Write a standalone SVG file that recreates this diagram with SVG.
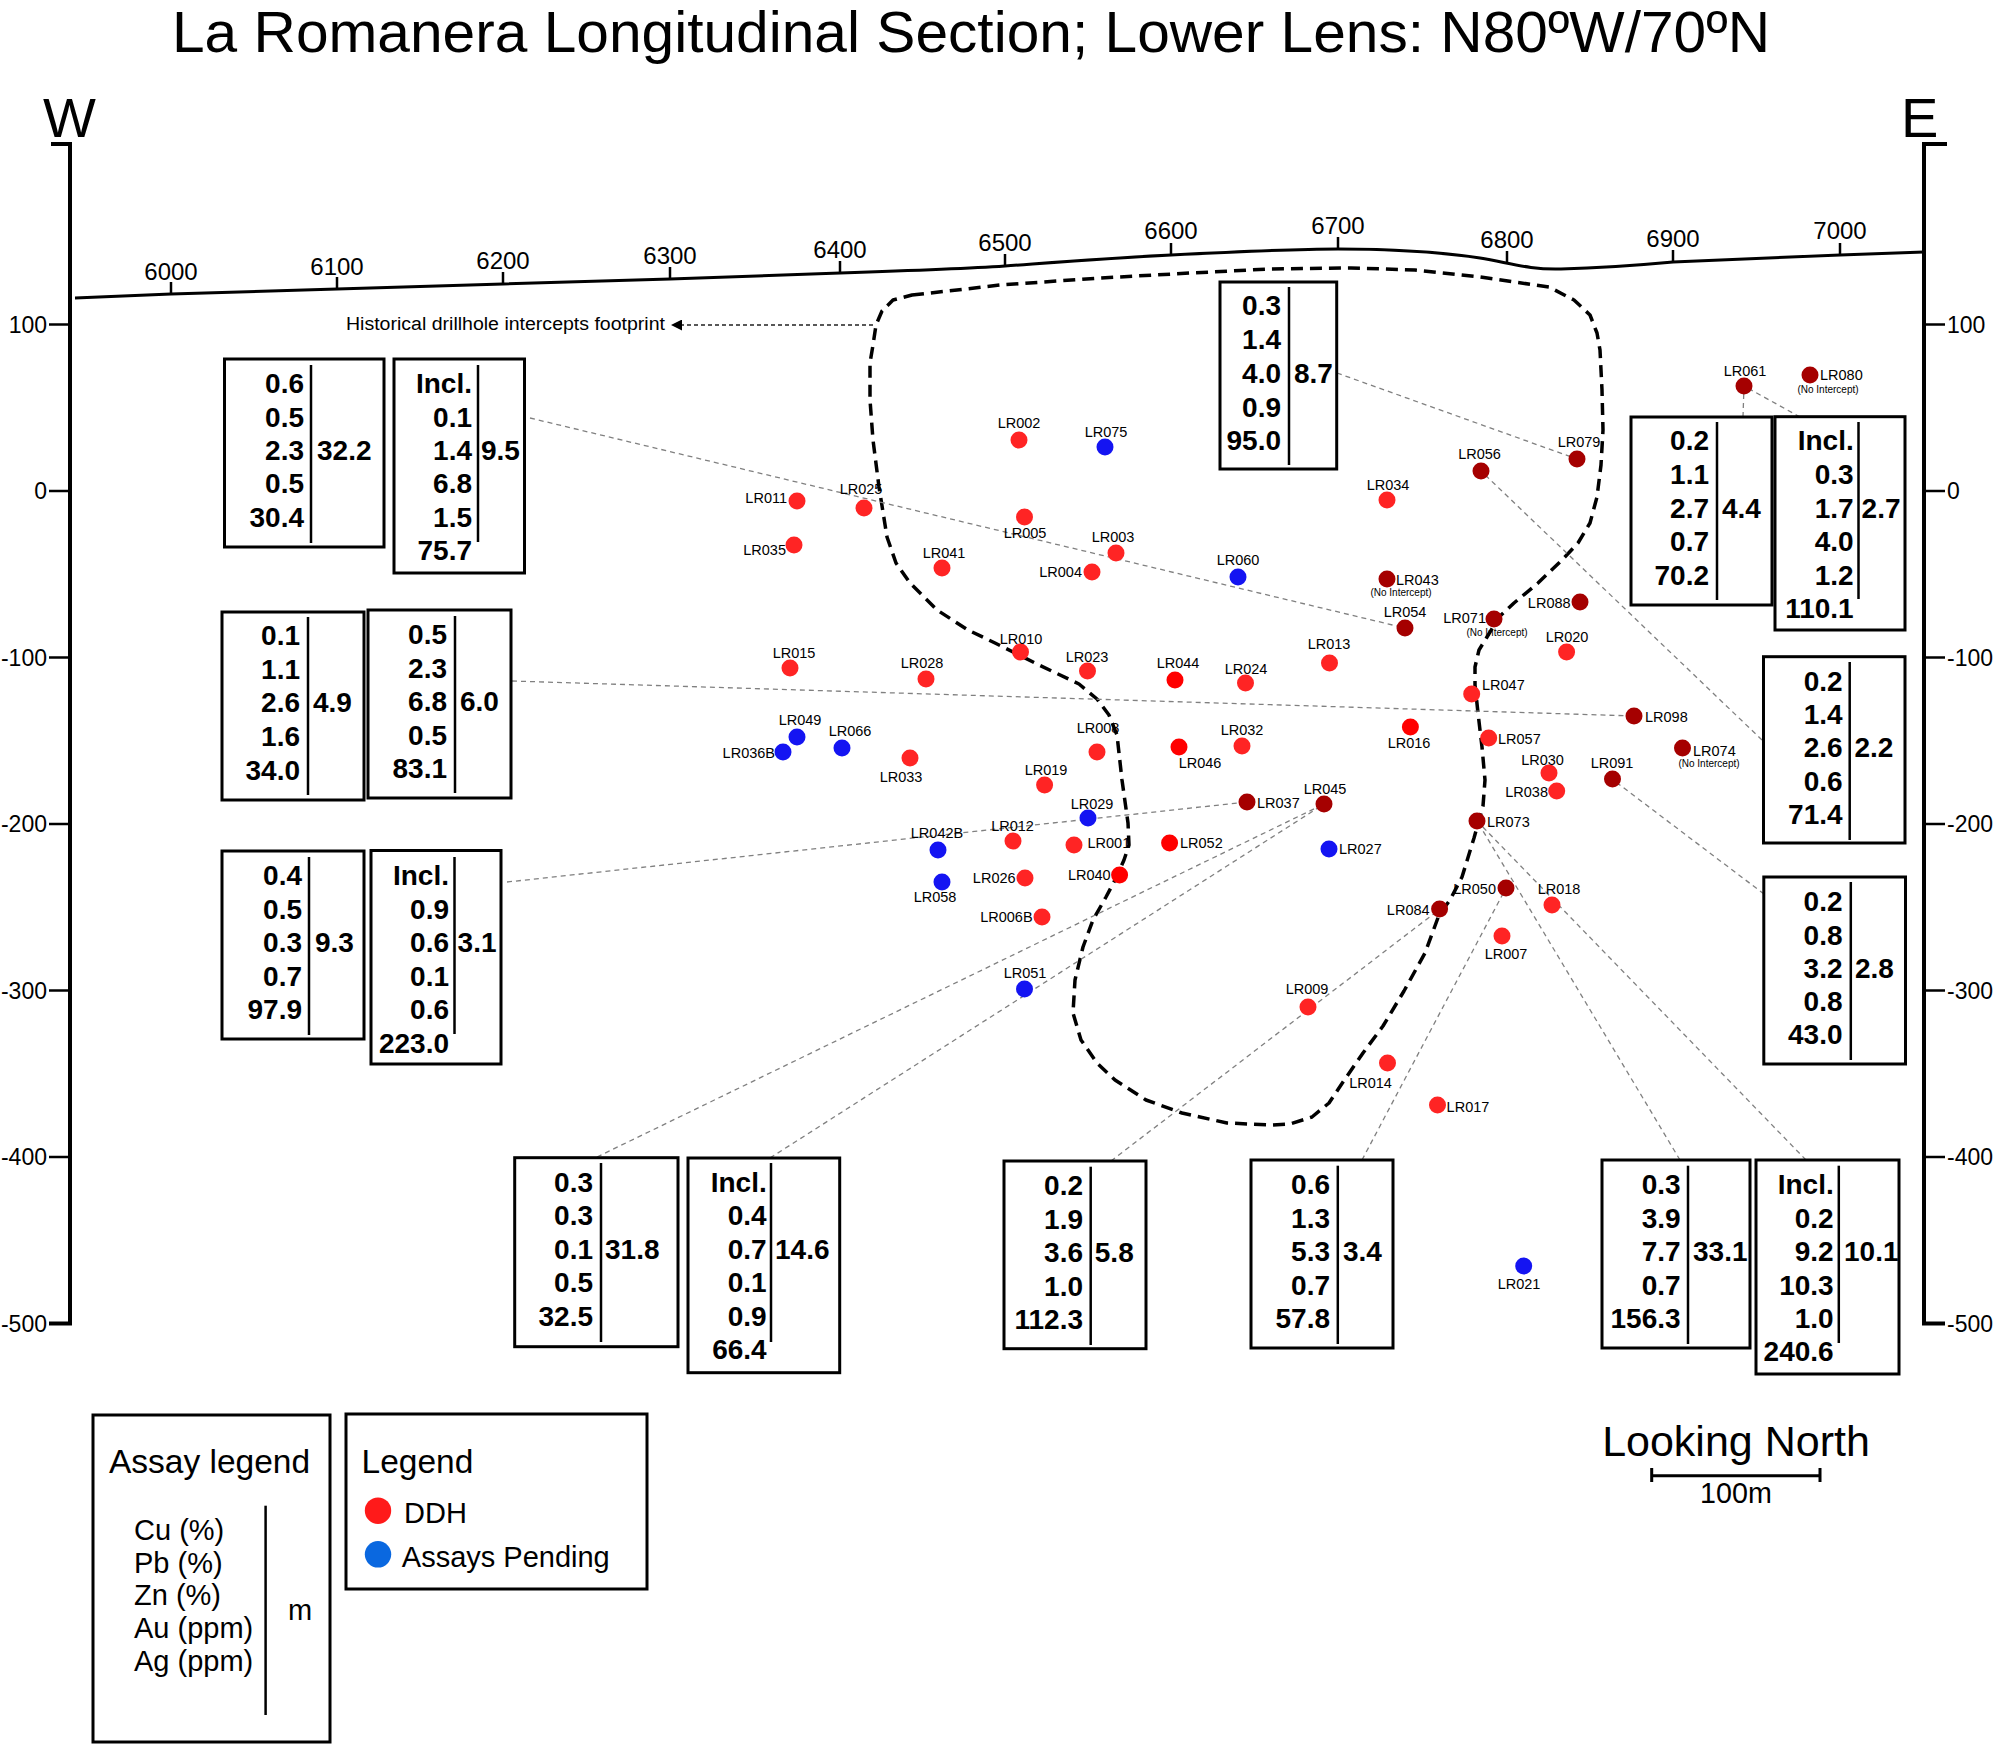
<svg xmlns="http://www.w3.org/2000/svg" width="2000" height="1744" viewBox="0 0 2000 1744">
<defs>
<style>
text{font-family:"Liberation Sans",Arial,sans-serif;fill:#000}
.t{font-size:57.5px}
.we{font-size:56px}
.ax{stroke:#000;stroke-width:4;fill:none}
.tk{stroke:#000;stroke-width:2.5}
.axl{font-size:23px}
.el{font-size:24px;text-anchor:middle}
.lb{font-size:14.5px}
.m{text-anchor:middle}
.e{text-anchor:end}
.ni{font-size:10px;text-anchor:middle}
.r{fill:#FF2424}
.rr{fill:#FF0000}
.d{fill:#A50000}
.b{fill:#1414F2}
.bx{fill:#fff;stroke:#000;stroke-width:3}
.vl{stroke:#000;stroke-width:2.5}
.n{font-size:28px;font-weight:bold;text-anchor:end}
.v{font-size:28px;font-weight:bold}
.con{stroke:#808080;stroke-width:1.3;stroke-dasharray:5 4;fill:none}
.fp{stroke:#000;stroke-width:3.5;stroke-dasharray:12 7;fill:none;stroke-linejoin:round}
.lg{font-size:33.5px}
.li{font-size:29px}
</style>
<marker id="ah" viewBox="0 0 10 10" refX="10" refY="5" markerWidth="16" markerHeight="11" markerUnits="userSpaceOnUse" orient="auto">
<path d="M0,0 L10,5 L0,10 z" fill="#000"/>
</marker>
</defs>
<rect width="2000" height="1744" fill="#fff"/>
<text class="t" x="172" y="52" textLength="1598" lengthAdjust="spacingAndGlyphs">La Romanera Longitudinal Section; Lower Lens: N80ºW/70ºN</text>
<text class="we" x="43" y="137">W</text>
<text class="we" x="1901" y="137">E</text>

<g id="axes">
<path class="ax" d="M51,144 H70 V1323.5 H49"/>
<path class="ax" d="M1947,144 H1924 V1323.5 H1945"/>
<g class="tk">
<line x1="49" y1="324.5" x2="70" y2="324.5"/><line x1="49" y1="491" x2="70" y2="491"/><line x1="49" y1="657.5" x2="70" y2="657.5"/><line x1="49" y1="824" x2="70" y2="824"/><line x1="49" y1="990.5" x2="70" y2="990.5"/><line x1="49" y1="1157" x2="70" y2="1157"/>
<line x1="1924" y1="324.5" x2="1945" y2="324.5"/><line x1="1924" y1="491" x2="1945" y2="491"/><line x1="1924" y1="657.5" x2="1945" y2="657.5"/><line x1="1924" y1="824" x2="1945" y2="824"/><line x1="1924" y1="990.5" x2="1945" y2="990.5"/><line x1="1924" y1="1157" x2="1945" y2="1157"/>
</g>
<g class="axl">
<text class="e" x="47" y="332.5">100</text><text class="e" x="47" y="499">0</text><text class="e" x="47" y="665.5">-100</text><text class="e" x="47" y="832">-200</text><text class="e" x="47" y="998.5">-300</text><text class="e" x="47" y="1165">-400</text><text class="e" x="47" y="1331.5">-500</text>
<text x="1947" y="332.5">100</text><text x="1947" y="499">0</text><text x="1947" y="665.5">-100</text><text x="1947" y="832">-200</text><text x="1947" y="998.5">-300</text><text x="1947" y="1165">-400</text><text x="1947" y="1331.5">-500</text>
</g>
</g>

<g id="topography">
<path d="M75,298 L171,294 L337,289 L503,284 L670,279 L840,273 C900,271 960,269 1005,266 C1060,262 1110,258 1171,255 C1230,252 1290,249 1338,249 C1390,249 1440,252 1480,258 C1510,263 1530,270 1561,269 C1600,268 1630,266 1673,262 L1840,255 L1924,252" fill="none" stroke="#000" stroke-width="3"/>
<g class="tk" stroke-width="2">
<line x1="171" y1="294" x2="171" y2="282"/><line x1="337" y1="289" x2="337" y2="277"/><line x1="503" y1="284" x2="503" y2="272"/><line x1="670" y1="279" x2="670" y2="267"/><line x1="840" y1="273" x2="840" y2="261"/><line x1="1005" y1="266" x2="1005" y2="254"/><line x1="1171" y1="255" x2="1171" y2="243"/><line x1="1338" y1="249" x2="1338" y2="237"/><line x1="1507" y1="263" x2="1507" y2="251"/><line x1="1673" y1="262" x2="1673" y2="250"/><line x1="1840" y1="255" x2="1840" y2="243"/>
</g>
<text class="el" x="171" y="280">6000</text><text class="el" x="337" y="275">6100</text><text class="el" x="503" y="269">6200</text><text class="el" x="670" y="264">6300</text><text class="el" x="840" y="258">6400</text><text class="el" x="1005" y="251">6500</text><text class="el" x="1171" y="239">6600</text><text class="el" x="1338" y="234">6700</text><text class="el" x="1507" y="248">6800</text><text class="el" x="1673" y="247">6900</text><text class="el" x="1840" y="239">7000</text>
</g>

<g id="footprint">
<path class="fp" d="M912,295 L957,290 L1000,285 L1100,278 L1191,273 L1270,269 L1351,268 L1415,270 L1480,277 L1549,287 L1574,300 L1590,315 L1597,333 L1600,350 L1602,390 L1603,430 L1601,465 L1597,497 L1590,523 L1578,543 L1562,560 L1538,583 L1514,603 L1499,617 L1487,637 L1479,650 L1475,667 L1475,685 L1478,713 L1482,747 L1485,780 L1483,806 L1474,838 L1462,877 L1450,900 L1439,915 L1425,953 L1404,991 L1383,1026 L1363,1053 L1343,1082 L1329,1103 L1312,1117 L1290,1124 L1271,1125 L1227,1123 L1182,1113 L1146,1100 L1115,1080 L1097,1063 L1081,1040 L1073,1013 L1075,980 L1083,947 L1093,920 L1106,897 L1115,880 L1124,860 L1129,845 L1128,823 L1122,780 L1117,735 L1109,715 L1097,699 L1079,684 L1035,663 L995,643 L968,630 L937,610 L910,583 L896,563 L887,537 L879,487 L873,440 L870,400 L870,363 L873,345 L876,325 L882,311 L893,300 Z"/>
<line x1="873" y1="325" x2="671" y2="325" stroke="#222" stroke-width="1.3" stroke-dasharray="4 3" marker-end="url(#ah)"/>
<text x="346" y="330" font-size="18" textLength="319" lengthAdjust="spacingAndGlyphs">Historical drillhole intercepts footprint</text>
</g>

<g id="connectors">
<line class="con" x1="530" y1="418" x2="1405" y2="628"/>
<line class="con" x1="512" y1="681" x2="1634" y2="716"/>
<line class="con" x1="507" y1="882" x2="1247" y2="802"/>
<line class="con" x1="597" y1="1157" x2="1324" y2="804"/>
<line class="con" x1="770" y1="1158" x2="1324" y2="804"/>
<line class="con" x1="1111" y1="1161" x2="1440" y2="909"/>
<line class="con" x1="1362" y1="1160" x2="1506" y2="888"/>
<line class="con" x1="1680" y1="1160" x2="1477" y2="821"/>
<line class="con" x1="1806" y1="1160" x2="1477" y2="821"/>
<line class="con" x1="1762" y1="740" x2="1481" y2="471"/>
<line class="con" x1="1764" y1="894" x2="1612" y2="779"/>
<line class="con" x1="1743" y1="417" x2="1744" y2="386"/>
<line class="con" x1="1800" y1="417" x2="1744" y2="386"/>
<line class="con" x1="1337" y1="373" x2="1577" y2="459"/>
</g>

<g id="holes" class="lb">
<g id="LR002"><circle class="r" cx="1019" cy="440" r="8.5"/><text class="m" x="1019" y="428">LR002</text></g>
<g id="LR075"><circle class="b" cx="1105" cy="447" r="8.5"/><text class="m" x="1106" y="437">LR075</text></g>
<g id="LR011"><circle class="r" cx="797" cy="501" r="8.5"/><text class="e" x="787" y="503">LR011</text></g>
<g id="LR025"><circle class="r" cx="864" cy="508" r="8.5"/><text class="m" x="861" y="494">LR025</text></g>
<g id="LR005"><circle class="r" cx="1024.5" cy="517" r="8.5"/><text class="m" x="1025" y="538">LR005</text></g>
<g id="LR003"><circle class="r" cx="1116" cy="553" r="8.5"/><text class="m" x="1113" y="542">LR003</text></g>
<g id="LR004"><circle class="r" cx="1092" cy="572" r="8.5"/><text class="e" x="1082" y="577">LR004</text></g>
<g id="LR035"><circle class="r" cx="794" cy="545" r="8.5"/><text class="e" x="786" y="555">LR035</text></g>
<g id="LR041"><circle class="r" cx="942" cy="568" r="8.5"/><text class="m" x="944" y="558">LR041</text></g>
<g id="LR060"><circle class="b" cx="1238" cy="577" r="8.5"/><text class="m" x="1238" y="565">LR060</text></g>
<g id="LR043"><circle class="d" cx="1387" cy="579" r="8.5"/><text x="1396" y="585">LR043</text><text class="ni" x="1401" y="596">(No Intercept)</text></g>
<g id="LR034"><circle class="r" cx="1387" cy="500" r="8.5"/><text class="m" x="1388" y="490">LR034</text></g>
<g id="LR010"><circle class="r" cx="1020.5" cy="652" r="8.5"/><text class="m" x="1021" y="644">LR010</text></g>
<g id="LR015"><circle class="r" cx="790" cy="668" r="8.5"/><text class="m" x="794" y="658">LR015</text></g>
<g id="LR028"><circle class="r" cx="926" cy="679" r="8.5"/><text class="m" x="922" y="668">LR028</text></g>
<g id="LR023"><circle class="r" cx="1087.5" cy="671" r="8.5"/><text class="m" x="1087" y="662">LR023</text></g>
<g id="LR044"><circle class="rr" cx="1175" cy="680" r="8.5"/><text class="m" x="1178" y="668">LR044</text></g>
<g id="LR024"><circle class="r" cx="1245.5" cy="683" r="8.5"/><text class="m" x="1246" y="674">LR024</text></g>
<g id="LR013"><circle class="r" cx="1329.5" cy="663" r="8.5"/><text class="m" x="1329" y="649">LR013</text></g>
<g id="LR049"><circle class="b" cx="797" cy="737" r="8.5"/><text class="m" x="800" y="725">LR049</text></g>
<g id="LR036B"><circle class="b" cx="783" cy="752" r="8.5"/><text class="e" x="775" y="758">LR036B</text></g>
<g id="LR066"><circle class="b" cx="842" cy="748" r="8.5"/><text class="m" x="850" y="736">LR066</text></g>
<g id="LR033"><circle class="r" cx="910" cy="758" r="8.5"/><text class="m" x="901" y="782">LR033</text></g>
<g id="LR008"><circle class="r" cx="1097" cy="752" r="8.5"/><text class="m" x="1098" y="733">LR008</text></g>
<g id="LR046"><circle class="rr" cx="1179" cy="747" r="8.5"/><text class="m" x="1200" y="768">LR046</text></g>
<g id="LR032"><circle class="r" cx="1242" cy="746" r="8.5"/><text class="m" x="1242" y="735">LR032</text></g>
<g id="LR019"><circle class="r" cx="1044.6" cy="785" r="8.5"/><text class="m" x="1046" y="775">LR019</text></g>
<g id="LR029"><circle class="b" cx="1088" cy="818" r="8.5"/><text class="m" x="1092" y="809">LR029</text></g>
<g id="LR037"><circle class="d" cx="1247" cy="802" r="8.5"/><text x="1257" y="808">LR037</text></g>
<g id="LR045"><circle class="d" cx="1324" cy="804" r="8.5"/><text class="m" x="1325" y="794">LR045</text></g>
<g id="LR012"><circle class="r" cx="1013" cy="841" r="8.5"/><text class="m" x="1012.5" y="831">LR012</text></g>
<g id="LR042B"><circle class="b" cx="938" cy="850" r="8.5"/><text class="m" x="937" y="838">LR042B</text></g>
<g id="LR001"><circle class="r" cx="1074" cy="845" r="8.5"/><text x="1087.5" y="848">LR001</text></g>
<g id="LR052"><circle class="rr" cx="1169.6" cy="843" r="8.5"/><text x="1180" y="848">LR052</text></g>
<g id="LR027"><circle class="b" cx="1329" cy="849" r="8.5"/><text x="1339" y="854">LR027</text></g>
<g id="LR026"><circle class="r" cx="1025" cy="878" r="8.5"/><text class="e" x="1015.6" y="883">LR026</text></g>
<g id="LR040"><circle class="rr" cx="1119.6" cy="875" r="8.5"/><text class="e" x="1110.7" y="880">LR040</text></g>
<g id="LR058"><circle class="b" cx="942" cy="882" r="8.5"/><text class="m" x="935" y="902">LR058</text></g>
<g id="LR006B"><circle class="r" cx="1042" cy="917" r="8.5"/><text class="e" x="1032.6" y="922">LR006B</text></g>
<g id="LR051"><circle class="b" cx="1024.5" cy="989" r="8.5"/><text class="m" x="1025" y="978">LR051</text></g>
<g id="LR009"><circle class="r" cx="1308" cy="1007" r="8.5"/><text class="m" x="1307" y="994">LR009</text></g>
<g id="LR014"><circle class="r" cx="1387.5" cy="1063" r="8.5"/><text class="m" x="1370.5" y="1088">LR014</text></g>
<g id="LR061"><circle class="d" cx="1744" cy="386" r="8.5"/><text class="m" x="1745" y="376">LR061</text></g>
<g id="LR080"><circle class="d" cx="1810" cy="375" r="8.5"/><text x="1820" y="380">LR080</text><text class="ni" x="1828" y="393">(No Intercept)</text></g>
<g id="LR079"><circle class="d" cx="1577" cy="459" r="8.5"/><text class="m" x="1579" y="447">LR079</text></g>
<g id="LR056"><circle class="d" cx="1481" cy="471" r="8.5"/><text class="m" x="1479.5" y="459">LR056</text></g>
<g id="LR088"><circle class="d" cx="1580" cy="602" r="8.5"/><text class="e" x="1570.6" y="608">LR088</text></g>
<g id="LR071"><circle class="d" cx="1494" cy="619" r="8.5"/><text class="e" x="1486" y="623">LR071</text><text class="ni" x="1497" y="636">(No Intercept)</text></g>
<g id="LR054"><circle class="d" cx="1405" cy="628" r="8.5"/><text class="m" x="1405" y="617">LR054</text></g>
<g id="LR020"><circle class="r" cx="1566.6" cy="652" r="8.5"/><text class="m" x="1567" y="642">LR020</text></g>
<g id="LR047"><circle class="r" cx="1471.7" cy="694" r="8.5"/><text x="1482" y="690">LR047</text></g>
<g id="LR098"><circle class="d" cx="1634" cy="716" r="8.5"/><text x="1645" y="722">LR098</text></g>
<g id="LR016"><circle class="rr" cx="1410.4" cy="727" r="8.5"/><text class="m" x="1409" y="748">LR016</text></g>
<g id="LR057"><circle class="r" cx="1488.7" cy="738" r="8.5"/><text x="1498" y="744">LR057</text></g>
<g id="LR074"><circle class="d" cx="1682.5" cy="748" r="8.5"/><text x="1693" y="756">LR074</text><text class="ni" x="1709" y="767">(No Intercept)</text></g>
<g id="LR030"><circle class="r" cx="1549" cy="773" r="8.5"/><text class="m" x="1542.5" y="765">LR030</text></g>
<g id="LR038"><circle class="r" cx="1556.7" cy="791" r="8.5"/><text class="e" x="1548" y="797">LR038</text></g>
<g id="LR091"><circle class="d" cx="1612.5" cy="779" r="8.5"/><text class="m" x="1612" y="768">LR091</text></g>
<g id="LR073"><circle class="d" cx="1477" cy="821" r="8.5"/><text x="1487" y="827">LR073</text></g>
<g id="LR050"><circle class="d" cx="1506" cy="888" r="8.5"/><text class="e" x="1496" y="894">LR050</text></g>
<g id="LR018"><circle class="r" cx="1552" cy="905" r="8.5"/><text class="m" x="1559" y="894">LR018</text></g>
<g id="LR084"><circle class="d" cx="1439.6" cy="909" r="8.5"/><text class="e" x="1429.6" y="915">LR084</text></g>
<g id="LR007"><circle class="r" cx="1502" cy="936" r="8.5"/><text class="m" x="1506" y="959">LR007</text></g>
<g id="LR017"><circle class="r" cx="1437.5" cy="1105" r="8.5"/><text x="1446.6" y="1112">LR017</text></g>
<g id="LR021"><circle class="b" cx="1523.7" cy="1266" r="8.5"/><text class="m" x="1519" y="1289">LR021</text></g>
</g>

<g id="assays">
<g id="B1"><rect class="bx" x="224.5" y="359" width="159.5" height="188"/><line class="vl" x1="311" y1="365" x2="311" y2="543"/>
<text class="n" x="304" y="393">0.6</text><text class="n" x="304" y="427">0.5</text><text class="n" x="304" y="460">2.3</text><text class="n" x="304" y="493">0.5</text><text class="n" x="304" y="527">30.4</text><text class="v" x="317" y="460">32.2</text></g>
<g id="B2"><rect class="bx" x="394" y="359" width="130.5" height="214"/><line class="vl" x1="478" y1="365" x2="478" y2="542"/>
<text class="n" x="472" y="393">Incl.</text><text class="n" x="472" y="427">0.1</text><text class="n" x="472" y="460">1.4</text><text class="n" x="472" y="493">6.8</text><text class="n" x="472" y="527">1.5</text><text class="n" x="472" y="560">75.7</text><text class="v" x="481" y="460">9.5</text></g>
<g id="B3"><rect class="bx" x="222" y="612" width="142" height="188"/><line class="vl" x1="308" y1="617" x2="308" y2="795"/>
<text class="n" x="300" y="645">0.1</text><text class="n" x="300" y="679">1.1</text><text class="n" x="300" y="712">2.6</text><text class="n" x="300" y="746">1.6</text><text class="n" x="300" y="780">34.0</text><text class="v" x="313" y="712">4.9</text></g>
<g id="B4"><rect class="bx" x="368" y="610" width="143" height="188"/><line class="vl" x1="455" y1="616" x2="455" y2="793"/>
<text class="n" x="447" y="644">0.5</text><text class="n" x="447" y="678">2.3</text><text class="n" x="447" y="711">6.8</text><text class="n" x="447" y="745">0.5</text><text class="n" x="447" y="778">83.1</text><text class="v" x="460" y="711">6.0</text></g>
<g id="B5"><rect class="bx" x="222" y="851" width="142" height="188"/><line class="vl" x1="309" y1="857" x2="309" y2="1035"/>
<text class="n" x="302" y="885">0.4</text><text class="n" x="302" y="919">0.5</text><text class="n" x="302" y="952">0.3</text><text class="n" x="302" y="986">0.7</text><text class="n" x="302" y="1019">97.9</text><text class="v" x="315" y="952">9.3</text></g>
<g id="B6"><rect class="bx" x="371" y="850.5" width="130" height="213.5"/><line class="vl" x1="454.5" y1="857" x2="454.5" y2="1034"/>
<text class="n" x="449" y="885">Incl.</text><text class="n" x="449" y="919">0.9</text><text class="n" x="449" y="952">0.6</text><text class="n" x="449" y="986">0.1</text><text class="n" x="449" y="1019">0.6</text><text class="n" x="449" y="1052.6">223.0</text><text class="v" x="457.6" y="952">3.1</text></g>
<g id="B7"><rect class="bx" x="514.7" y="1157.7" width="163.3" height="189"/><line class="vl" x1="601" y1="1163" x2="601" y2="1342"/>
<text class="n" x="593" y="1191.7">0.3</text><text class="n" x="593" y="1225">0.3</text><text class="n" x="593" y="1258.5">0.1</text><text class="n" x="593" y="1292">0.5</text><text class="n" x="593" y="1325.5">32.5</text><text class="v" x="605" y="1258.5">31.8</text></g>
<g id="B8"><rect class="bx" x="688" y="1158" width="151.7" height="214.7"/><line class="vl" x1="771" y1="1163" x2="771" y2="1342"/>
<text class="n" x="766.7" y="1191.7">Incl.</text><text class="n" x="766.7" y="1225">0.4</text><text class="n" x="766.7" y="1258.5">0.7</text><text class="n" x="766.7" y="1292">0.1</text><text class="n" x="766.7" y="1325.5">0.9</text><text class="n" x="766.7" y="1359">66.4</text><text class="v" x="775" y="1258.5">14.6</text></g>
<g id="B9"><rect class="bx" x="1004" y="1161" width="142" height="187.7"/><line class="vl" x1="1090.7" y1="1166.7" x2="1090.7" y2="1345"/>
<text class="n" x="1083" y="1195">0.2</text><text class="n" x="1083" y="1228.5">1.9</text><text class="n" x="1083" y="1262">3.6</text><text class="n" x="1083" y="1295.5">1.0</text><text class="n" x="1083" y="1329">112.3</text><text class="v" x="1094.8" y="1262">5.8</text></g>
<g id="B10"><rect class="bx" x="1251" y="1160" width="142" height="188"/><line class="vl" x1="1337.8" y1="1165.7" x2="1337.8" y2="1344"/>
<text class="n" x="1330" y="1194">0.6</text><text class="n" x="1330" y="1227.5">1.3</text><text class="n" x="1330" y="1261">5.3</text><text class="n" x="1330" y="1294.5">0.7</text><text class="n" x="1330" y="1328">57.8</text><text class="v" x="1343" y="1261">3.4</text></g>
<g id="B11"><rect class="bx" x="1602" y="1160" width="148" height="188"/><line class="vl" x1="1688" y1="1165.7" x2="1688" y2="1344"/>
<text class="n" x="1680.6" y="1194">0.3</text><text class="n" x="1680.6" y="1227.5">3.9</text><text class="n" x="1680.6" y="1261">7.7</text><text class="n" x="1680.6" y="1294.5">0.7</text><text class="n" x="1680.6" y="1328">156.3</text><text class="v" x="1693" y="1261">33.1</text></g>
<g id="B12"><rect class="bx" x="1756" y="1160" width="143" height="214"/><line class="vl" x1="1838.8" y1="1165.7" x2="1838.8" y2="1343"/>
<text class="n" x="1833.7" y="1194">Incl.</text><text class="n" x="1833.7" y="1227.5">0.2</text><text class="n" x="1833.7" y="1261">9.2</text><text class="n" x="1833.7" y="1294.5">10.3</text><text class="n" x="1833.7" y="1328">1.0</text><text class="n" x="1833.7" y="1361">240.6</text><text class="v" x="1844" y="1261">10.1</text></g>
<g id="B13"><rect class="bx" x="1763.5" y="656.7" width="141.5" height="186.3"/><line class="vl" x1="1849.7" y1="662" x2="1849.7" y2="840"/>
<text class="n" x="1842.6" y="690.7">0.2</text><text class="n" x="1842.6" y="724">1.4</text><text class="n" x="1842.6" y="757.3">2.6</text><text class="n" x="1842.6" y="790.7">0.6</text><text class="n" x="1842.6" y="824">71.4</text><text class="v" x="1854.5" y="757.3">2.2</text></g>
<g id="B14"><rect class="bx" x="1763.8" y="877" width="141.7" height="187"/><line class="vl" x1="1850.8" y1="882" x2="1850.8" y2="1060"/>
<text class="n" x="1842.5" y="911">0.2</text><text class="n" x="1842.5" y="944.7">0.8</text><text class="n" x="1842.5" y="978">3.2</text><text class="n" x="1842.5" y="1011">0.8</text><text class="n" x="1842.5" y="1044">43.0</text><text class="v" x="1855" y="978">2.8</text></g>
<g id="B15"><rect class="bx" x="1631" y="417" width="141" height="188"/><line class="vl" x1="1717" y1="422" x2="1717" y2="600"/>
<text class="n" x="1709" y="450">0.2</text><text class="n" x="1709" y="484">1.1</text><text class="n" x="1709" y="517.7">2.7</text><text class="n" x="1709" y="551">0.7</text><text class="n" x="1709" y="585">70.2</text><text class="v" x="1722" y="517.7">4.4</text></g>
<g id="B16"><rect class="bx" x="1775" y="416.7" width="130" height="213.3"/><line class="vl" x1="1858.5" y1="422" x2="1858.5" y2="599"/>
<text class="n" x="1853.7" y="450">Incl.</text><text class="n" x="1853.7" y="484">0.3</text><text class="n" x="1853.7" y="517.7">1.7</text><text class="n" x="1853.7" y="551">4.0</text><text class="n" x="1853.7" y="585">1.2</text><text class="n" x="1853.7" y="618">110.1</text><text class="v" x="1861.6" y="517.7">2.7</text></g>
<g id="B17"><rect class="bx" x="1220" y="282" width="116.7" height="187"/><line class="vl" x1="1289" y1="287" x2="1289" y2="465"/>
<text class="n" x="1281" y="315">0.3</text><text class="n" x="1281" y="348.7">1.4</text><text class="n" x="1281" y="382.5">4.0</text><text class="n" x="1281" y="416.5">0.9</text><text class="n" x="1281" y="450">95.0</text><text class="v" x="1294" y="382.5">8.7</text></g>
</g>

<g id="assay-legend">
<rect class="bx" x="93" y="1415" width="237" height="327"/>
<text class="lg" x="109" y="1473">Assay legend</text>
<text class="li" x="134" y="1540">Cu (%)</text><text class="li" x="134" y="1572.5">Pb (%)</text><text class="li" x="134" y="1605">Zn (%)</text><text class="li" x="134" y="1638">Au (ppm)</text><text class="li" x="134" y="1671">Ag (ppm)</text>
<line class="vl" x1="265.6" y1="1505.7" x2="265.6" y2="1715"/>
<text class="li" x="288" y="1620">m</text>
</g>

<g id="legend">
<rect class="bx" x="346" y="1414" width="301" height="175"/>
<text class="lg" x="361.6" y="1472.7">Legend</text>
<circle cx="378" cy="1510.7" r="13.2" fill="#FF1A1A"/>
<text class="li" x="404" y="1522.7">DDH</text>
<circle cx="378" cy="1554.3" r="13.2" fill="#0A68E0"/>
<text class="li" x="401.8" y="1566.7">Assays Pending</text>
</g>

<g id="scale">
<text x="1736" y="1456" font-size="43" text-anchor="middle">Looking North</text>
<path d="M1651.7,1468 V1482 M1651.7,1475.7 H1820 M1820,1468 V1482" stroke="#000" stroke-width="3" fill="none"/>
<text x="1736" y="1503" font-size="28.7" text-anchor="middle">100m</text>
</g>
</svg>
